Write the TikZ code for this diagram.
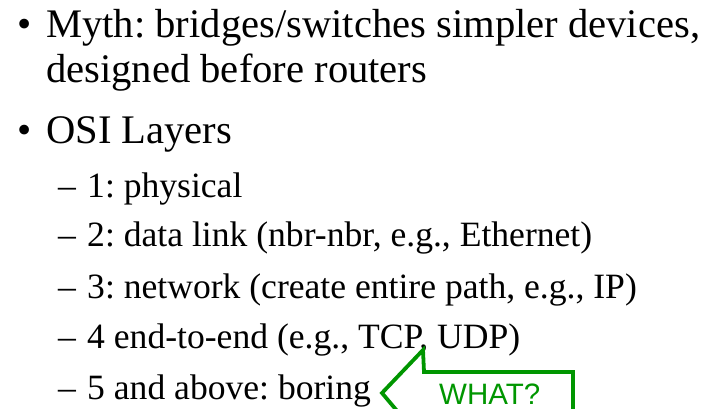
\documentclass[tikz,border=0pt]{standalone}
\usepackage{fontspec}
\setmainfont{Liberation Serif}
\newfontfamily\calloutfont{Liberation Sans}
\definecolor{calloutgreen}{RGB}{0,150,0}
\frenchspacing
\begin{document}
\begin{tikzpicture}[x=1pt,y=1pt,
  toptext/.style={anchor=base west,inner sep=0pt,font=\fontsize{40.6}{44}\selectfont},
  subtext/.style={anchor=base west,inner sep=0pt,font=\fontsize{35.6}{40}\selectfont},
  callout/.style={draw=calloutgreen,line width=3.8pt,line join=miter}]
\useasboundingbox (0,0) rectangle (704,408);
% first bullet
\node[toptext] (b1) at (17,370) {•};
\node[toptext] (t1) at (46,370) {Myth: bridges/switches simpler devices,};
\node[toptext] (t2) at (46,326) {designed before routers};
% second bullet
\node[toptext] (b2) at (17,265) {•};
\node[toptext] (t3) at (46,265) {OSI Layers};
% layer list
\node[subtext] (d1) at (58,211) {–};
\node[subtext] (s1) at (87,211) {1: physical};
\node[subtext] (d2) at (58,162) {–};
\node[subtext] (s2) at (87,162) {2: data link (nbr-nbr, e.g., Ethernet)};
\node[subtext] (d3) at (58,110) {–};
\node[subtext] (s3) at (87,110) {3: network (create entire path, e.g., IP)};
\node[subtext] (d4) at (58,60) {–};
\node[subtext] (s4) at (87,60) {4 end-to-end (e.g., TCP, UDP)};
\node[subtext] (d5) at (58,9) {–};
\node[subtext] (s5) at (87,9) {5 and above: boring};
% callout pointing at the comma
\begin{scope}
\clip (0,0) rectangle (704,408);
\draw[callout] (398,-4) -- (382,15) -- (423,58) -- (424,36) -- (573,36) -- (573,-6);
\node[anchor=base west,inner sep=0pt,text=calloutgreen,font=\calloutfont\fontsize{29.5}{31}\selectfont] (what) at (439,4) {WHAT?};
\end{scope}
\end{tikzpicture}
\end{document}
